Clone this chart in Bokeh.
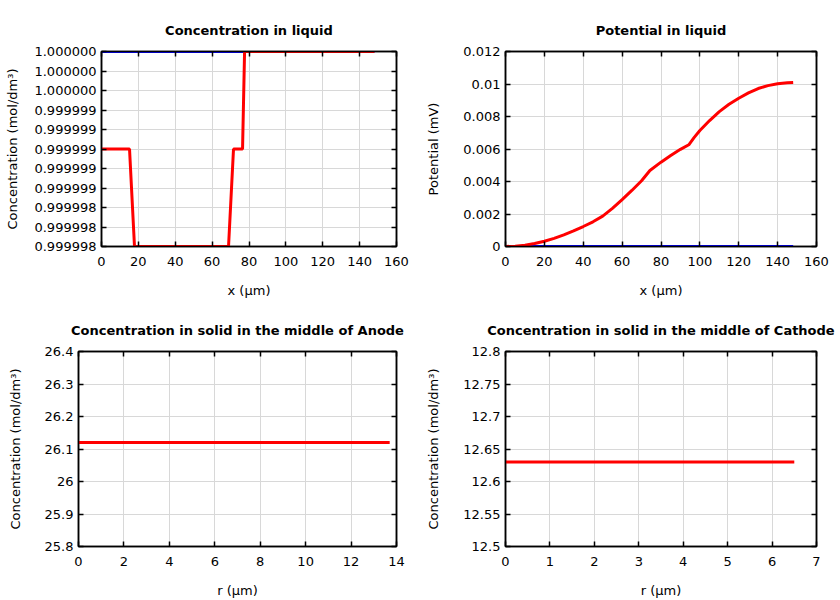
from bokeh.plotting import figure
from bokeh.layouts import column, row
from bokeh.models import Range1d, FixedTicker, LinearAxis, CustomJSTickFormatter
from bokeh.embed import file_html
from bokeh.resources import INLINE

# ---- data ----
conc_x_red = [0, 15.2, 17.9, 68.9, 71.6, 76.5, 77.6, 148]
conc_y_red = [0.999999, 0.999999, 0.999998, 0.999998, 0.999999, 0.999999, 1.0, 1.0]
conc_x_blue = [0, 148]
conc_y_blue = [1.0, 1.0]

pot_x_red = [0, 5, 10, 15, 20, 25, 30, 35, 40, 45, 50, 55, 60, 65, 70, 74.3,
             80, 85, 90, 94.3, 97, 100, 105, 110, 115, 120, 125, 130, 135, 140, 145, 148]
pot_y_red = [0, 0.00002, 0.00008, 0.00018, 0.00032, 0.0005, 0.00072, 0.00096, 0.00123,
             0.00152, 0.00187, 0.00235, 0.00289, 0.00345, 0.00405, 0.00468,
             0.00519, 0.0056, 0.00598, 0.00626, 0.0067, 0.00714, 0.00775, 0.0083,
             0.00875, 0.00912, 0.00945, 0.00972, 0.0099, 0.01002, 0.01007, 0.01009]
pot_x_blue = [0, 148]
pot_y_blue = [0, 0]

anode_r = [0, 13.7]
anode_c = [26.12, 26.12]
cathode_r = [0, 6.5]
cathode_c = [12.63, 12.63]

conc_yticks = [0.999998 + i * 2e-7 for i in range(11)]
pot_yticks = [0, 0.002, 0.004, 0.006, 0.008, 0.01, 0.012]
anode_yticks = [25.8, 25.9, 26.0, 26.1, 26.2, 26.3, 26.4]
cathode_yticks = [12.5, 12.55, 12.6, 12.65, 12.7, 12.75, 12.8]
x_ticks_liquid = list(range(0, 161, 20))
x_ticks_anode = list(range(0, 15, 2))
x_ticks_cathode = list(range(0, 8, 1))

FONT = "DejaVu Sans"
RED = "#ff0000"
BLUE = "#0000ff"

fmt_fixed6 = CustomJSTickFormatter(code="return tick.toFixed(6);")
fmt_short = CustomJSTickFormatter(code="return String(parseFloat(tick.toFixed(6)));")
fmt_blank = CustomJSTickFormatter(code="return '';")


def make_fig(title, xlabel, ylabel, xr, yr, xticks, yticks, yfmt,
             left, right, top, bottom, ylab_standoff):
    p = figure(width=420, height=300, output_backend="svg", toolbar_location=None,
               x_range=Range1d(*xr), y_range=Range1d(*yr),
               min_border_left=left, min_border_right=right,
               min_border_top=top, min_border_bottom=bottom, title=title)
    p.title.text_font = FONT
    p.title.text_font_size = "13px"
    p.title.text_font_style = "bold"
    p.title.align = "center"
    p.title.vertical_align = "top"
    p.title.text_color = "black"
    p.title.standoff = 24
    p.outline_line_color = "black"
    p.outline_line_width = 1.5
    p.background_fill_color = "white"
    p.border_fill_color = "white"

    p.xaxis.ticker = FixedTicker(ticks=xticks)
    p.yaxis.ticker = FixedTicker(ticks=yticks)
    p.yaxis.formatter = yfmt
    p.xaxis.formatter = fmt_short
    p.xaxis.axis_label = xlabel
    p.yaxis.axis_label = ylabel
    for ax in (p.xaxis[0], p.yaxis[0]):
        ax.major_tick_in = 5
        ax.major_tick_out = 0
        ax.minor_tick_line_color = None
        ax.axis_line_color = "black"
        ax.axis_line_width = 1.5
        ax.major_tick_line_color = "black"
        ax.major_tick_line_width = 1.5
        ax.major_label_text_font = FONT
        ax.major_label_text_font_size = "13px"
        ax.major_label_text_color = "black"
        ax.axis_label_text_font = FONT
        ax.axis_label_text_font_size = "13px"
        ax.axis_label_text_font_style = "normal"
        ax.axis_label_text_color = "black"
    p.xaxis.major_label_standoff = 10
    p.xaxis.axis_label_standoff = 14
    p.yaxis.major_label_standoff = 5
    p.yaxis.axis_label_standoff = ylab_standoff

    top_ax = LinearAxis(ticker=FixedTicker(ticks=xticks), formatter=fmt_blank,
                        major_tick_in=5, major_tick_out=0,
                        minor_tick_line_color=None, major_label_standoff=0,
                        axis_line_width=1.5, major_tick_line_width=1.5)
    right_ax = LinearAxis(ticker=FixedTicker(ticks=yticks), formatter=fmt_blank,
                          major_tick_in=5, major_tick_out=0,
                          minor_tick_line_color=None, major_label_standoff=0,
                          axis_line_width=1.5, major_tick_line_width=1.5)
    p.add_layout(top_ax, "above")
    p.add_layout(right_ax, "right")

    p.xgrid.ticker = FixedTicker(ticks=xticks)
    p.ygrid.ticker = FixedTicker(ticks=yticks)
    p.grid.grid_line_color = "#d8d8d8"
    p.grid.grid_line_width = 1
    return p


ylab_conc = "Concentration (mol/dm\u00b3)"

p1 = make_fig("Concentration in liquid", "x (\u03bcm)", ylab_conc, (0, 160), (0.999998, 1.000000),
              x_ticks_liquid, conc_yticks, fmt_fixed6, 101, 24, 51, 54, 11)
p1.line(conc_x_blue, conc_y_blue, line_color=BLUE, line_width=3)
p1.line(conc_x_red, conc_y_red, line_color=RED, line_width=3)

p2 = make_fig("Potential in liquid", "x (\u03bcm)", "Potential (mV)", (0, 160), (0, 0.012),
              x_ticks_liquid, pot_yticks, fmt_short, 85, 24, 51, 54, 19)
p2.line(pot_x_blue, pot_y_blue, line_color=BLUE, line_width=3)
p2.line(pot_x_red, pot_y_red, line_color=RED, line_width=3)

p3 = make_fig("Concentration in solid in the middle of Anode", "r (\u03bcm)", ylab_conc,
              (0, 14), (25.8, 26.4), x_ticks_anode, anode_yticks, fmt_short, 78, 24, 51, 54, 19)
p3.line(anode_r, anode_c, line_color=RED, line_width=3)

p4 = make_fig("Concentration in solid in the middle of Cathode", "r (\u03bcm)", ylab_conc,
              (0, 7), (12.5, 12.8), x_ticks_cathode, cathode_yticks, fmt_short, 85, 24, 51, 54, 19)
p4.line(cathode_r, cathode_c, line_color=RED, line_width=3)

layout = column(row(p1, p2), row(p3, p4))

open("out.html", "w").write(file_html(layout, INLINE))
